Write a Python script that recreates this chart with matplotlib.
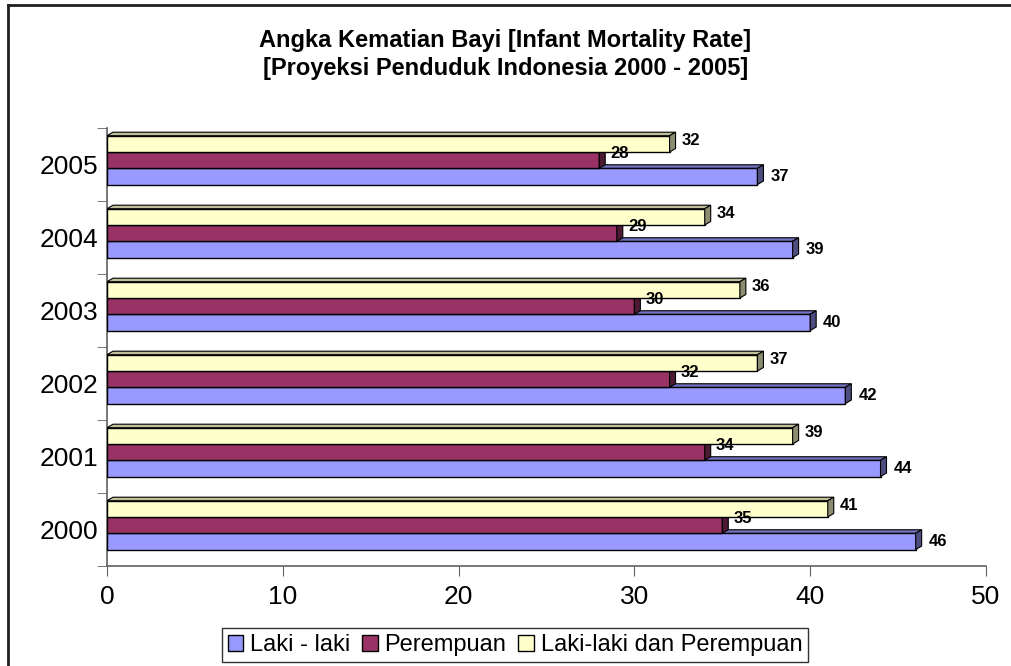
import numpy as np
import matplotlib.pyplot as plt
from matplotlib.patches import Polygon, Patch
from matplotlib.lines import Line2D

plt.rcParams['font.family'] = ['Liberation Sans', 'DejaVu Sans']

# Data
years = ['2000', '2001', '2002', '2003', '2004', '2005']
laki = [46, 44, 42, 40, 39, 37]
perempuan = [35, 34, 32, 30, 29, 28]
total = [41, 39, 37, 36, 34, 32]
series_names = ['Laki - laki', 'Perempuan', 'Laki-laki dan Perempuan']

colors = ['#9999FF', '#993366', '#FFFFCC']
tops = ['#7373BF', '#73264D', '#BFBF99']
sides = ['#4D4D80', '#4D1A33', '#8C8C70']

fig = plt.figure(figsize=(10.11, 6.66), dpi=100)
ax = fig.add_axes([107 / 1011, 100 / 666, 879 / 1011, 438 / 666])

ax.set_xlim(0, 50)
ax.set_ylim(-0.5, len(years) - 0.5)

bar_h = 0.223
shift = 0.06
dx = 0.34   # depth in x data units
dy = 0.048  # depth in category units


def bar3d(y0, val, k):
    # front face
    ax.add_patch(Polygon([(0, y0), (val, y0), (val, y0 + bar_h), (0, y0 + bar_h)],
                         closed=True, facecolor=colors[k], edgecolor='black', lw=1, zorder=3))
    # top face
    ax.add_patch(Polygon([(0, y0 + bar_h), (val, y0 + bar_h), (val + dx, y0 + bar_h + dy),
                          (dx, y0 + bar_h + dy)],
                         closed=True, facecolor=tops[k], edgecolor='black', lw=0.8, zorder=3))
    # side face
    ax.add_patch(Polygon([(val, y0), (val + dx, y0 + dy), (val + dx, y0 + bar_h + dy),
                          (val, y0 + bar_h)],
                         closed=True, facecolor=sides[k], edgecolor='black', lw=0.8, zorder=3))


all_series = [laki, perempuan, total]
label_offsets = [(0.4, 0.0), (0.3, 0.09), (0.35, 0.05)]
for i in range(len(years)):
    for k, vals in enumerate(all_series):
        y0 = i - 1.5 * bar_h + k * bar_h + shift
        bar3d(y0, vals[i], k)
        ox, oy = label_offsets[k]
        ax.text(vals[i] + dx + ox, y0 + bar_h / 2 + oy, str(vals[i]),
                fontsize=12, fontweight='bold', ha='left', va='center', zorder=4)

# axes styling
for s in ['top', 'right']:
    ax.spines[s].set_visible(False)
for s in ['left', 'bottom']:
    ax.spines[s].set_color('#606060')
    ax.spines[s].set_linewidth(1.2)

ax.set_xticks(np.arange(0, 51, 10))
ax.tick_params(axis='x', direction='out', length=7, color='#606060', labelsize=19, pad=7)
ax.set_yticks(range(len(years)))
ax.set_yticklabels(years)
ax.tick_params(axis='y', which='major', length=0, labelsize=19, pad=6)
ax.set_yticks(np.arange(-0.5, len(years)), minor=True)
ax.tick_params(axis='y', which='minor', direction='out', length=7, color='#606060')

# title
fig.text(0.5, 1 - 40 / 666, 'Angka Kematian Bayi [Infant Mortality Rate]',
         ha='center', va='center', fontsize=17, fontweight='bold')
fig.text(0.5, 1 - 68 / 666, '[Proyeksi Penduduk Indonesia 2000 - 2005]',
         ha='center', va='center', fontsize=17, fontweight='bold')

# legend
handles = [Patch(facecolor=colors[k], edgecolor='black', lw=1) for k in range(3)]
leg = fig.legend(handles, series_names, loc='center', bbox_to_anchor=(515 / 1011, 1 - 645 / 666),
                 ncol=3, fontsize=17, frameon=True, fancybox=False, handlelength=0.65,
                 handleheight=0.65, handletextpad=0.3, columnspacing=0.5, borderpad=0.25)
leg.get_frame().set_edgecolor('black')
leg.get_frame().set_linewidth(1)

# outer border (top and left)
fig.add_artist(Line2D([8 / 1011, 8 / 1011], [0, 1 - 5 / 666], transform=fig.transFigure,
                      color='#202020', lw=2))
fig.add_artist(Line2D([8 / 1011, 1], [1 - 5 / 666, 1 - 5 / 666], transform=fig.transFigure,
                      color='#202020', lw=2))

fig.savefig('out.png', dpi=100)
